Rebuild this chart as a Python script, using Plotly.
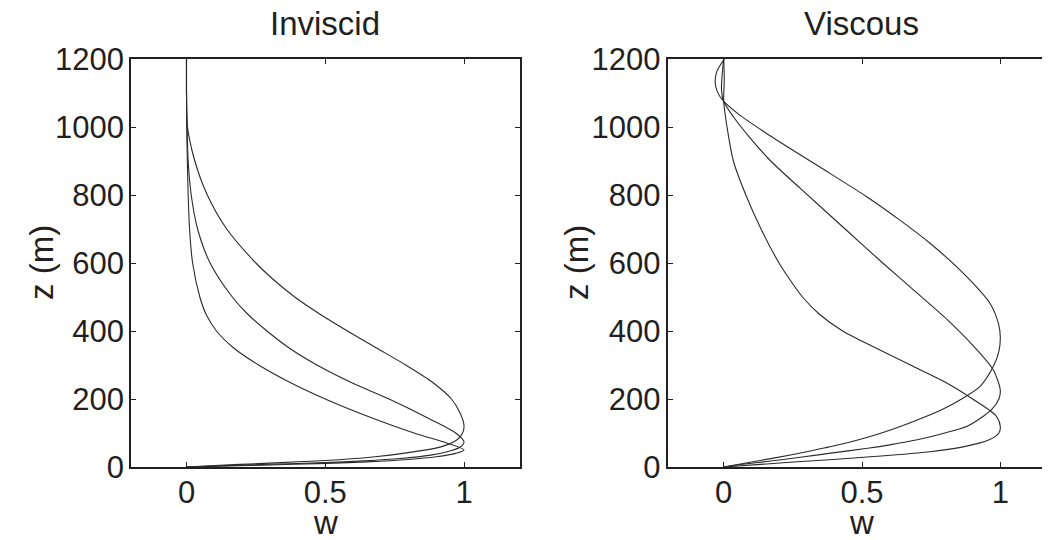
import plotly.graph_objects as go

# ---------------- data ----------------
# Inviscid panel: three profiles w(z), listed from z = 0 upward
inv1_z = [0, 3, 6, 10, 15, 22, 30, 40, 50, 70, 100, 150, 200, 250, 300, 350, 400, 450, 500, 600, 700, 800, 900, 1000, 1100, 1200]
inv1_w = [0, 0.15, 0.3, 0.47, 0.65, 0.8, 0.9, 0.97, 1.0, 0.94, 0.82, 0.65, 0.5, 0.37, 0.26, 0.17, 0.108, 0.07, 0.048, 0.022, 0.011, 0.006, 0.003, 0.001, 0, 0]

inv2_z = [0, 4, 8, 13, 18, 25, 35, 45, 58, 74, 100, 140, 200, 250, 300, 350, 400, 450, 500, 600, 700, 800, 900, 1000, 1100, 1200]
inv2_w = [0, 0.14, 0.3, 0.5, 0.64, 0.77, 0.88, 0.94, 0.985, 1.0, 0.97, 0.88, 0.73, 0.59, 0.47, 0.37, 0.29, 0.22, 0.165, 0.085, 0.04, 0.017, 0.006, 0.002, 0, 0]

inv3_z = [0, 5, 10, 16, 22, 30, 40, 60, 80, 100, 122, 160, 200, 250, 300, 350, 400, 450, 500, 550, 600, 700, 800, 900, 1004, 1100, 1200]
inv3_w = [0, 0.12, 0.26, 0.42, 0.56, 0.68, 0.78, 0.92, 0.975, 0.995, 1.0, 0.985, 0.955, 0.885, 0.79, 0.685, 0.58, 0.48, 0.39, 0.315, 0.25, 0.145, 0.075, 0.03, 0.003, 0, 0]

# Viscous panel: three profiles w(z), listed from z = 0 upward
vis1_z = [0, 9, 16, 22, 30, 45, 60, 80, 100, 119, 150, 200, 250, 300, 350, 400, 450, 500, 550, 600, 700, 800, 900, 1000, 1075, 1140, 1200]
vis1_w = [0, 0.155, 0.28, 0.396, 0.53, 0.746, 0.87, 0.96, 0.995, 1.0, 0.985, 0.9, 0.8, 0.675, 0.55, 0.43, 0.345, 0.285, 0.24, 0.2, 0.135, 0.08, 0.035, 0.012, 0.0, 0.002, 0]

vis2_z = [0, 8, 16, 30, 40, 55, 65, 80, 100, 120, 150, 170, 200, 226, 285, 354, 432, 521, 600, 692, 820, 900, 971, 1030, 1075, 1110, 1150, 1200]
vis2_w = [0, 0.07, 0.155, 0.29, 0.38, 0.52, 0.6, 0.7, 0.8, 0.88, 0.94, 0.97, 0.995, 1.0, 0.975, 0.905, 0.81, 0.686, 0.575, 0.45, 0.276, 0.17, 0.092, 0.035, 0.0, -0.008, -0.006, 0]

vis3_z = [0, 12, 26, 45, 66, 95, 129, 169, 200, 237, 296, 340, 383, 423, 481, 570, 658, 726, 795, 888, 981, 1040, 1079, 1104, 1133, 1163, 1200]
vis3_w = [0, 0.08, 0.18, 0.3, 0.42, 0.55, 0.67, 0.79, 0.86, 0.927, 0.975, 0.995, 1.0, 0.993, 0.963, 0.866, 0.746, 0.637, 0.517, 0.336, 0.155, 0.05, -0.004, -0.023, -0.031, -0.025, 0.002]

panel_titles = ["Inviscid", "Viscous"]
x_title = "w"
y_title = "z (m)"
x_ticks = [0, 0.5, 1]
x_ticklabels = ["0", "0.5", "1"]
y_ticks = [0, 200, 400, 600, 800, 1000, 1200]
y_ticklabels = ["0", "200", "400", "600", "800", "1000", "1200"]

# ---------------- figure ----------------
INK = "#231f20"
FONT = "Liberation Sans, Arial, Helvetica, sans-serif"

fig = go.Figure()
line = dict(color="#2a2a2a", width=1.1, shape="spline", smoothing=0.8)

for w, z in [(inv1_w, inv1_z), (inv2_w, inv2_z), (inv3_w, inv3_z)]:
    fig.add_trace(go.Scatter(x=w, y=z, mode="lines", line=line, xaxis="x", yaxis="y", showlegend=False))
for w, z in [(vis1_w, vis1_z), (vis2_w, vis2_z), (vis3_w, vis3_z)]:
    fig.add_trace(go.Scatter(x=w, y=z, mode="lines", line=line, xaxis="x2", yaxis="y2", showlegend=False))

W, H = 1050, 540
OFF = 8  # page body margin offset in the browser
left_dom = [(131 - OFF) / W, (519.5 - OFF) / W]
right_dom = [(668.4 - OFF) / W, (1055.6 - OFF) / W]
y_dom = [1 - (467 - OFF) / H, 1 - (59 - OFF) / H]

axcommon = dict(
    showgrid=False, zeroline=False, showline=True, linecolor=INK, linewidth=1.5,
    ticks="inside", ticklen=5, tickwidth=1, tickcolor=INK, mirror="ticks",
    tickfont=dict(family=FONT, size=31, color=INK), automargin=False,
)

fig.update_layout(
    width=W, height=H,
    margin=dict(l=0, r=0, t=0, b=0),
    paper_bgcolor="white", plot_bgcolor="white",
    xaxis=dict(domain=left_dom, range=[-0.2, 1.2], tickvals=x_ticks, ticktext=x_ticklabels,
               anchor="y", ticklabelstandoff=-3, **axcommon),
    yaxis=dict(domain=y_dom, range=[0, 1200], tickvals=y_ticks, ticktext=y_ticklabels,
               anchor="x", ticklabelstandoff=-1, **axcommon),
    xaxis2=dict(domain=right_dom, range=[-0.2, 1.2], tickvals=x_ticks, ticktext=x_ticklabels,
                anchor="y2", ticklabelstandoff=-3, **axcommon),
    yaxis2=dict(domain=y_dom, range=[0, 1200], tickvals=y_ticks, ticktext=y_ticklabels,
                anchor="x2", ticklabelstandoff=0, **axcommon),
)

# panel titles and axis titles as real text
ann_font = dict(family=FONT, size=33, color=INK)
centers = [(left_dom[0] + left_dom[1]) / 2, (right_dom[0] + right_dom[1]) / 2]
for cx, t in zip(centers, panel_titles):
    fig.add_annotation(x=cx, y=1 - (23 - OFF) / H, xref="paper", yref="paper", text=t,
                       showarrow=False, font=ann_font, xanchor="center", yanchor="middle")
    fig.add_annotation(x=cx, y=1 - (522 - OFF) / H, xref="paper", yref="paper", text=x_title,
                       showarrow=False, font=ann_font, xanchor="center", yanchor="middle")
for xpx in [41, 576]:
    fig.add_annotation(x=(xpx - OFF) / W, y=1 - (263 - OFF) / H, xref="paper", yref="paper",
                       text=y_title, showarrow=False, font=ann_font, textangle=-90,
                       xanchor="center", yanchor="middle")

fig.write_html("out.html")
